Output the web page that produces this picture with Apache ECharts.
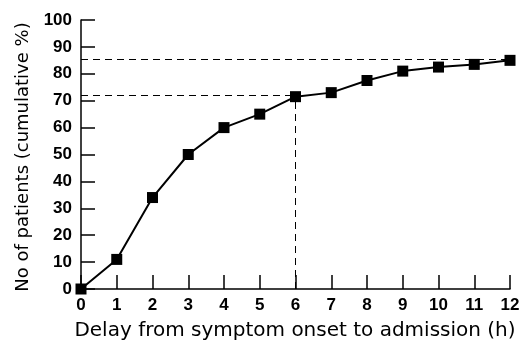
<!DOCTYPE html>
<html>
<head>
<meta charset="utf-8">
<script src="https://cdn.jsdelivr.net/npm/echarts@6/dist/echarts.min.js"></script>
<style>
html, body { margin: 0; padding: 0; background: #fff; }
#main { width: 528px; height: 342px; }
</style>
</head>
<body>
<div id="main"></div>
<script>
// delay in hours and cumulative % of patients
var hours = [0, 1, 2, 3, 4, 5, 6, 7, 8, 9, 10, 11, 12];
var cumPct = [0, 11, 34, 50, 60, 65, 71.5, 73, 77.5, 81, 82.5, 83.5, 85];
// reference lines
var refHigh = 85.5;
var refLow = 72;
var refHour = 6;

var chart = echarts.init(document.getElementById('main'));
var font = 'Liberation Sans, Arial, sans-serif';

chart.setOption({
	animation: false,
	grid: { left: 81, right: 18, top: 20, bottom: 53 },
	xAxis: {
		type: 'value',
		min: 0,
		max: 12,
		interval: 1,
		axisLine: { lineStyle: { color: '#000', width: 1.5 } },
		axisTick: { inside: true, length: 14, lineStyle: { color: '#000', width: 1.5 } },
		axisLabel: { color: '#000', fontFamily: font, fontSize: 17, fontWeight: 'bold', margin: 8 },
		splitLine: { show: false }
	},
	yAxis: {
		type: 'value',
		min: 0,
		max: 100,
		interval: 10,
		axisLine: { show: true, lineStyle: { color: '#000', width: 1.5 } },
		axisTick: { show: true, inside: true, length: 14, lineStyle: { color: '#000', width: 1.5 } },
		axisLabel: { color: '#000', fontFamily: font, fontSize: 17, fontWeight: 'bold', margin: 9 },
		splitLine: { show: false }
	},
	series: [{
		type: 'line',
		data: hours.map(function (h, i) { return [h, cumPct[i]]; }),
		symbol: 'rect',
		symbolSize: 11,
		itemStyle: { color: '#000' },
		lineStyle: { color: '#000', width: 2 },
		markLine: {
			silent: true,
			symbol: 'none',
			label: { show: false },
			lineStyle: { color: '#000', type: [7, 5], width: 1 },
			data: [
				[{ coord: [0, refHigh] }, { coord: [12, refHigh] }],
				[{ coord: [0, refLow] }, { coord: [refHour, refLow] }],
				[{ coord: [refHour, 0] }, { coord: [refHour, refLow] }]
			]
		}
	}],
	graphic: [
		{
			type: 'text',
			x: 295,
			y: 331,
			style: { text: 'Delay from symptom onset to admission (h)', fill: '#000', font: '20px DejaVu Sans, sans-serif', align: 'center', verticalAlign: 'middle' }
		},
		{
			type: 'text',
			x: 23,
			y: 157,
			rotation: Math.PI / 2,
			style: { text: 'No of patients (cumulative %)', fill: '#000', font: '18px DejaVu Sans, sans-serif', align: 'center', verticalAlign: 'middle' }
		}
	]
});
</script>
</body>
</html>
